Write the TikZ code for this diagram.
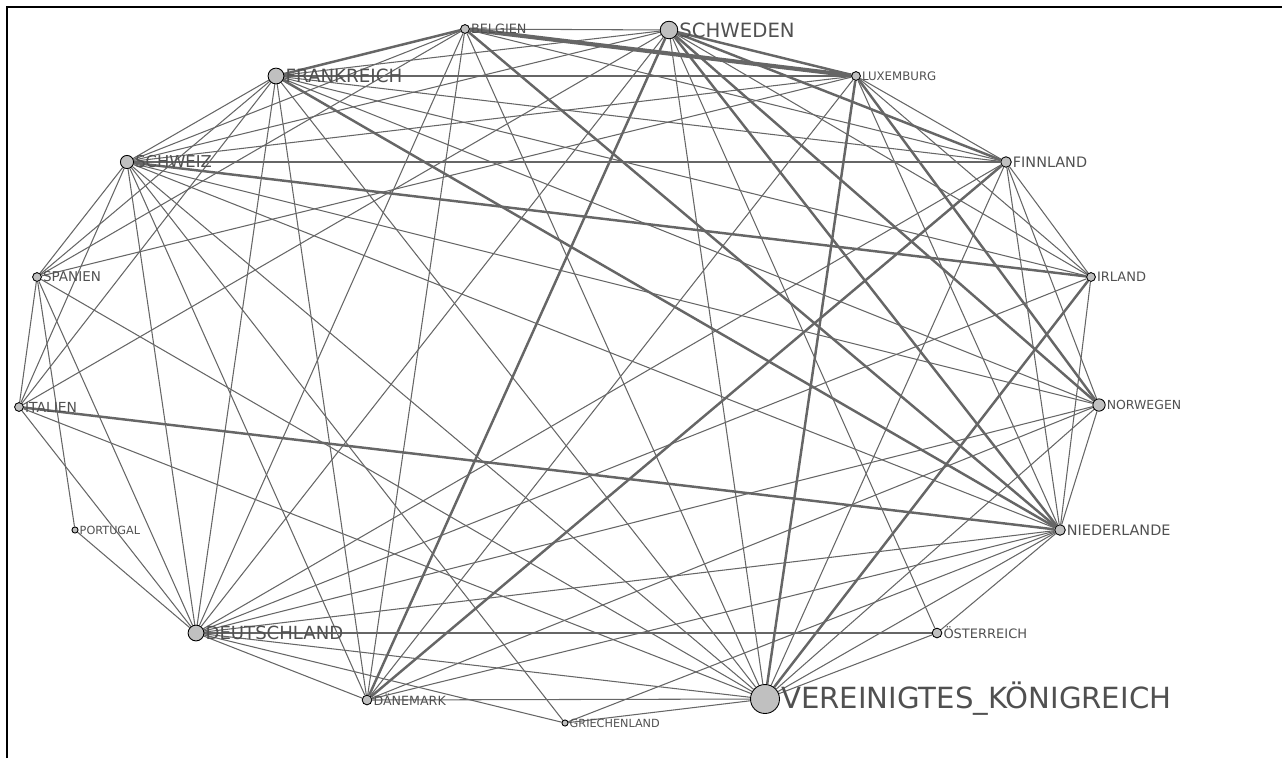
\documentclass[tikz,border=0pt]{standalone}
\usepackage{fontspec}
\setmainfont{DejaVu Sans}
\usetikzlibrary{positioning,backgrounds}
\definecolor{edgegray}{RGB}{102,102,102}
\definecolor{nodegray}{RGB}{192,192,192}
\definecolor{labelgray}{RGB}{80,80,80}
\tikzset{
  link/.style={draw=edgegray, line width=0.6pt},
  heavylink/.style={draw=edgegray, line width=1.4pt},
  hugelink/.style={draw=edgegray, line width=2.4pt},
  land/.style={circle, draw=black, fill=nodegray, line width=0.5pt, inner sep=0pt, minimum size=#1},
  landname/.style={text=labelgray, inner sep=0.5pt, anchor=west},
}
\newcommand{\fs}[1]{\fontsize{#1}{#1}\selectfont}

\begin{document}
\begin{tikzpicture}[x=0.02cm, y=-0.02cm]
    \useasboundingbox (0,0) rectangle (1282,758);
    % frame
    \draw[black, line width=0.6pt] (7,758) -- (7,7) -- (1282,7);
    % countries
    \node[land=5pt] (be) at (465,29) {};
    \node[land=10pt] (se) at (669,30) {};
    \node[land=9pt] (fr) at (276,76) {};
    \node[land=5pt] (lu) at (856,76) {};
    \node[land=7.5pt] (ch) at (127,162) {};
    \node[land=6pt] (fi) at (1006,162) {};
    \node[land=5pt] (es) at (37,277) {};
    \node[land=5pt] (ie) at (1091,277) {};
    \node[land=5pt] (it) at (19,407) {};
    \node[land=7pt] (no) at (1099,405) {};
    \node[land=3.5pt] (pt) at (75,530) {};
    \node[land=6pt] (nl) at (1060,530) {};
    \node[land=9pt] (de) at (196,633) {};
    \node[land=5.5pt] (at) at (937,633) {};
    \node[land=5.5pt] (dk) at (367,700) {};
    \node[land=3.5pt] (gr) at (565,723) {};
    \node[land=16.5pt] (uk) at (765,699) {};
    % names
    \node[landname, font=\fs{7.3}, right=0pt of be] {BELGIEN};
    \node[landname, font=\fs{11.2}, right=0pt of se] {SCHWEDEN};
    \node[landname, font=\fs{10.4}, right=0pt of fr] {FRANKREICH};
    \node[landname, font=\fs{6.7}, right=0pt of lu] {LUXEMBURG};
    \node[landname, font=\fs{9.3}, right=0pt of ch] {SCHWEIZ};
    \node[landname, font=\fs{8.2}, right=0pt of fi] {FINNLAND};
    \node[landname, font=\fs{7.7}, right=0pt of es] {SPANIEN};
    \node[landname, font=\fs{7.4}, right=0pt of ie] {IRLAND};
    \node[landname, font=\fs{7.9}, right=0pt of it] {ITALIEN};
    \node[landname, font=\fs{7.1}, right=0pt of no] {NORWEGEN};
    \node[landname, font=\fs{6.4}, right=0pt of pt] {PORTUGAL};
    \node[landname, font=\fs{8.2}, right=0pt of nl] {NIEDERLANDE};
    \node[landname, font=\fs{10.3}, right=0pt of de] {DEUTSCHLAND};
    \node[landname, font=\fs{7.4}, right=0pt of at] {ÖSTERREICH};
    \node[landname, font=\fs{7.2}, right=0pt of dk] {DÄNEMARK};
    \node[landname, font=\fs{6.4}, right=0pt of gr] {GRIECHENLAND};
    \node[landname, font=\fs{16.6}, right=0pt of uk] {VEREINIGTES\_KÖNIGREICH};
    % links
    \begin{scope}[on background layer]
      \draw[hugelink] (be) -- (lu);
      \foreach \a/\b in {be/fr, se/lu, se/no, lu/no, se/fi, ch/ie, fr/nl, be/nl,
                         se/nl, de/at, uk/ie, uk/lu, dk/fi, dk/se, it/nl}
        \draw[heavylink] (\a) -- (\b);
      \foreach \a/\b in {be/se, be/ch, be/es, be/fi, be/de, be/dk, be/uk,
                         se/fr, se/ch, se/de, se/uk, se/at, se/ie, it/se,
                         fr/lu, fr/ch, fr/es, fr/it, fr/fi, fr/ie, fr/no, fr/uk,
                         fr/dk, fr/de, lu/ch, lu/es, lu/fi, lu/ie, lu/dk, lu/nl,
                         ch/fi, ch/es, ch/it, ch/de, ch/dk, ch/uk, ch/nl, ch/no,
                         ch/gr, fi/de, fi/uk, fi/nl, fi/no, fi/ie, es/it, es/pt,
                         es/de, es/uk, it/de, it/uk, pt/de, ie/nl, ie/de,
                         no/nl, no/de, no/dk, nl/de, nl/dk, nl/gr, nl/uk, nl/at,
                         de/dk, de/uk, de/gr, dk/uk, gr/uk, uk/no, uk/at}
        \draw[link] (\a) -- (\b);
    \end{scope}
\end{tikzpicture}
\end{document}
